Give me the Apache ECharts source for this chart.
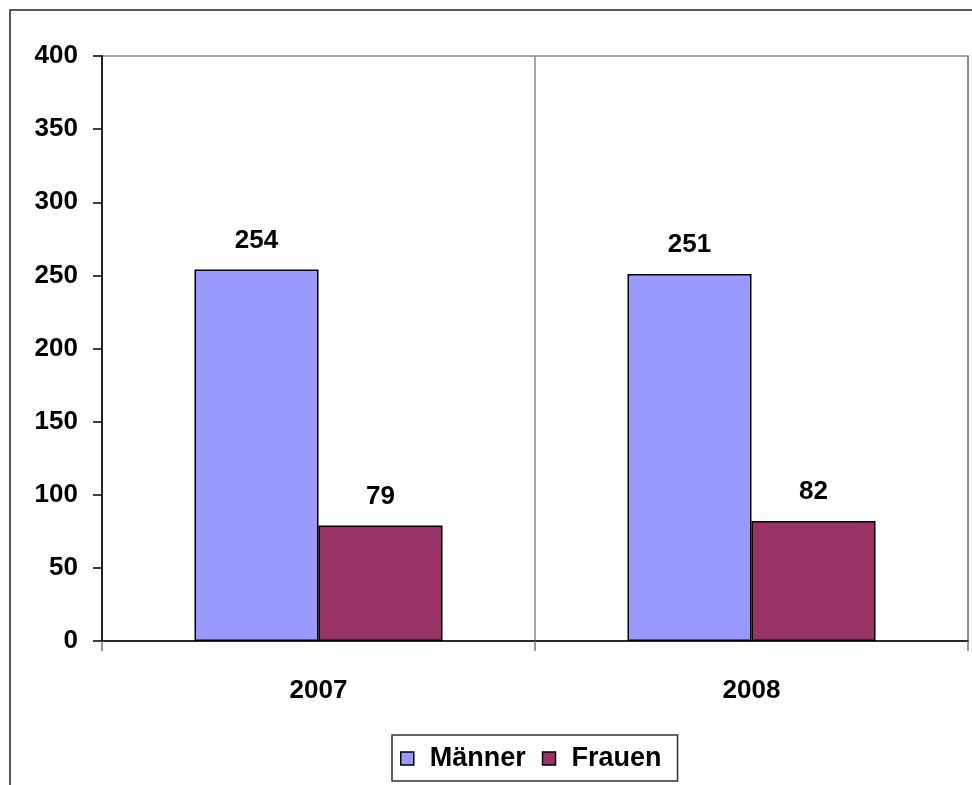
<!DOCTYPE html>
<html>
<head>
<meta charset="utf-8">
<script src="https://cdn.jsdelivr.net/npm/echarts@6/dist/echarts.min.js"></script>
<style>
  html, body { margin: 0; padding: 0; background: #fff; }
  #main { width: 972px; height: 785px; }
</style>
</head>
<body>
<div id="main"></div>
<script>
const years = ['2007', '2008'];
const maenner = [254, 251];
const frauen = [79, 82];
const yTicks = [0, 50, 100, 150, 200, 250, 300, 350, 400];

const chart = echarts.init(document.getElementById('main'), null, { renderer: 'canvas' });
const font = '"Liberation Sans", Arial, sans-serif';

const labelStyle = {
  show: true,
  position: 'top',
  distance: 16,
  color: '#000',
  fontSize: 26,
  fontWeight: 'bold',
  fontFamily: font
};

const option = {
  backgroundColor: '#ffffff',
  animation: false,
  textStyle: { fontFamily: font },
  // outer chart frame, runs off the right and bottom edges
  graphic: [{
    type: 'rect',
    shape: { x: 10, y: 10, width: 1000, height: 800 },
    style: { fill: 'none', stroke: '#222', lineWidth: 1.5 },
    silent: true
  }],
  grid: {
    left: 102,
    top: 56,
    right: 4,
    bottom: 144,
    show: true,
    borderColor: '#888',
    borderWidth: 1.5,
    backgroundColor: 'transparent'
  },
  legend: {
    left: 392,
    top: 735,
    orient: 'horizontal',
    data: ['Männer', 'Frauen'],
    icon: 'rect',
    itemWidth: 13,
    itemHeight: 13,
    itemGap: 16,
    padding: [10, 16, 9, 8],
    borderColor: '#333',
    borderWidth: 1.5,
    itemStyle: { borderColor: '#000', borderWidth: 1.5 },
    textStyle: {
      fontSize: 27,
      fontWeight: 'bold',
      color: '#000',
      fontFamily: font,
      padding: [0, 0, 0, 11]
    }
  },
  xAxis: {
    type: 'category',
    data: years,
    boundaryGap: true,
    axisLine: { lineStyle: { color: '#000', width: 1.5 } },
    axisTick: { show: true, length: 10, interval: 0, lineStyle: { color: '#777', width: 1.5 } },
    splitLine: { show: true, interval: 0, lineStyle: { color: '#888', width: 1.5 } },
    axisLabel: {
      margin: 37,
      color: '#000',
      fontSize: 26,
      fontWeight: 'bold',
      fontFamily: font
    }
  },
  yAxis: {
    type: 'value',
    min: yTicks[0],
    max: yTicks[yTicks.length - 1],
    interval: yTicks[1] - yTicks[0],
    axisLine: { show: true, lineStyle: { color: '#000', width: 1.5 } },
    axisTick: { show: true, length: 9, lineStyle: { color: '#000', width: 1.5 } },
    splitLine: { show: false },
    axisLabel: {
      margin: 24,
      color: '#000',
      fontSize: 26,
      fontWeight: 'bold',
      fontFamily: font
    }
  },
  series: [
    {
      name: 'Männer',
      type: 'bar',
      data: maenner,
      barWidth: 124,
      barGap: '0%',
      itemStyle: { color: '#9999FF', borderColor: '#000', borderWidth: 1.5 },
      label: labelStyle
    },
    {
      name: 'Frauen',
      type: 'bar',
      data: frauen,
      barWidth: 124,
      barGap: '0%',
      itemStyle: { color: '#993366', borderColor: '#000', borderWidth: 1.5 },
      label: labelStyle
    }
  ]
};

chart.setOption(option);
</script>
</body>
</html>
